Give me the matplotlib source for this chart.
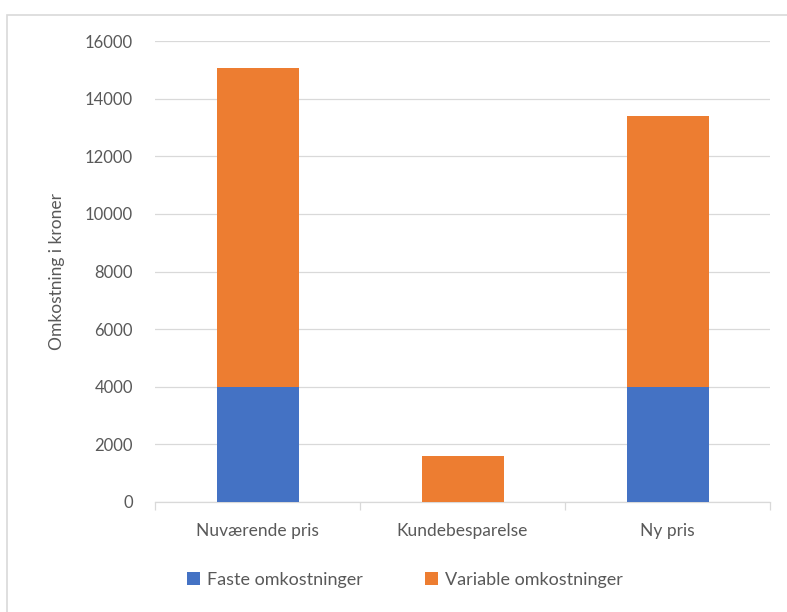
import matplotlib.pyplot as plt
from matplotlib.patches import Rectangle

# Data
categories = ['Nuværende pris', 'Kundebesparelse', 'Ny pris']
faste = [4000, 0, 4000]
variable = [11050, 1600, 9400]
series_names = ['Faste omkostninger', 'Variable omkostninger']
yticks = [0, 2000, 4000, 6000, 8000, 10000, 12000, 14000, 16000]

blue = '#4472c4'
orange = '#ed7d31'
grey_text = '#595959'
grid_col = '#d9d9d9'

plt.rcParams['font.family'] = ['Lato', 'DejaVu Sans']

fig = plt.figure(figsize=(7.87, 6.12), dpi=100)
ax = fig.add_axes([155 / 787, 1 - 502 / 612, 615 / 787, 461 / 612])

# chart area border
fig.patches.append(Rectangle((7 / 787, -0.01), 1.0, 1 - 15 / 612 + 0.01,
                             transform=fig.transFigure, fill=False,
                             edgecolor='#d9d9d9', linewidth=1.2))

x = range(len(categories))
ax.bar(x, faste, width=0.4, color=blue, label=series_names[0], zorder=3)
ax.bar(x, variable, width=0.4, bottom=faste, color=orange,
       label=series_names[1], zorder=3)

ax.set_xlim(-0.5, 2.5)
ax.set_ylim(0, 16000)
ax.set_yticks(yticks)
ax.set_yticklabels([str(v) for v in yticks])
ax.yaxis.grid(True, color=grid_col, linewidth=0.9, zorder=0)
ax.set_axisbelow(True)

ax.set_xticks(list(x))
ax.set_xticklabels(categories)
ax.set_xticks([-0.5, 0.5, 1.5, 2.5], minor=True)
ax.tick_params(axis='x', which='major', length=0, pad=15, labelsize=12.5,
               labelcolor=grey_text)
ax.tick_params(axis='x', which='minor', length=6, color=grid_col, width=0.9)
ax.tick_params(axis='y', length=0, pad=16, labelsize=12, labelcolor=grey_text)

for s in ['top', 'right', 'left']:
    ax.spines[s].set_visible(False)
ax.spines['bottom'].set_color(grid_col)
ax.spines['bottom'].set_linewidth(0.9)

ax.set_ylabel('Omkostning i kroner', fontsize=12.5, color=grey_text, labelpad=14)

ax.legend(loc='center', bbox_to_anchor=((405 - 155) / 615, (502 - 580) / 461),
          ncol=2, frameon=False, fontsize=13, labelcolor=grey_text,
          handlelength=0.75, handleheight=0.75, handletextpad=0.4, columnspacing=3.4)

fig.savefig('out.png', dpi=100)
